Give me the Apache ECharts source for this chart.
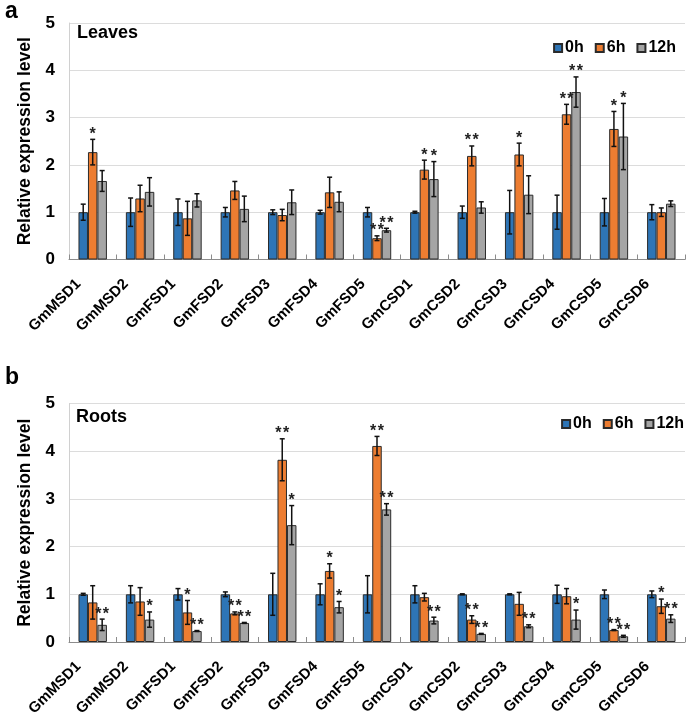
<!DOCTYPE html>
<html>
<head>
<meta charset="utf-8">
<script src="https://cdn.jsdelivr.net/npm/echarts@6/dist/echarts.min.js"></script>
<style>html,body{margin:0;padding:0;background:#fff;}#c{width:693px;height:720px;}</style>
</head>
<body>
<div id="c"></div>
<script>
const categories = ['GmMSD1','GmMSD2','GmFSD1','GmFSD2','GmFSD3','GmFSD4','GmFSD5','GmCSD1','GmCSD2','GmCSD3','GmCSD4','GmCSD5','GmCSD6'];
const seriesNames = ['0h','6h','12h'];
const yTicks = [0,1,2,3,4,5];

const leaves0 = [1,1,1,1,1,1,1,1,1,1,1,1,1];
const leaves0Err = [0.17,0.30,0.28,0.10,0.05,0.04,0.10,0.02,0.13,0.46,0.36,0.29,0.16];
const leaves6 = [2.27,1.29,0.87,1.46,0.94,1.42,0.45,1.90,2.19,2.22,3.07,2.76,1.00];
const leaves6Err = [0.27,0.28,0.36,0.19,0.12,0.32,0.05,0.20,0.21,0.24,0.21,0.37,0.09];
const leaves12 = [1.66,1.43,1.25,1.07,1.21,1.22,0.62,1.70,1.10,1.37,3.54,2.60,1.18];
const leaves12Err = [0.22,0.30,0.14,0.27,0.26,0.21,0.04,0.37,0.12,0.40,0.32,0.70,0.06];
const leaves0Sig = ['','','','','','','','','','','','',''];
const leaves6Sig = ['*','','','','','','**','*','**','*','**','*',''];
const leaves12Sig = ['','','','','','','**','*','','','**','*',''];

const roots0 = [1,1,1,1,1,1,1,1,1,1,1,1,1];
const roots0Err = [0.02,0.18,0.12,0.05,0.44,0.22,0.39,0.18,0.01,0.01,0.19,0.09,0.07];
const roots6 = [0.83,0.85,0.62,0.60,3.82,1.49,4.11,0.94,0.47,0.80,0.96,0.25,0.75];
const roots6Err = [0.35,0.29,0.25,0.03,0.44,0.15,0.20,0.08,0.08,0.24,0.16,0.01,0.15];
const roots12 = [0.36,0.47,0.23,0.40,2.45,0.73,2.78,0.45,0.17,0.33,0.47,0.12,0.49];
const roots12Err = [0.12,0.16,0.01,0.01,0.41,0.12,0.12,0.07,0.01,0.03,0.20,0.02,0.08];
const roots0Sig = ['','','','','','','','','','','','',''];
const roots6Sig = ['','','*','**','**','*','**','','**','','','**','*'];
const roots12Sig = ['**','*','**','**','*','*','**','**','**','**','*','**','**'];

const colors = ['#2E75B6','#ED7D31','#A5A5A5'];
const FONT = 'Liberation Sans, Arial, sans-serif';

const panels = [
  {vals:[leaves0,leaves6,leaves12], errs:[leaves0Err,leaves6Err,leaves12Err], sigs:[leaves0Sig,leaves6Sig,leaves12Sig]},
  {vals:[roots0,roots6,roots12], errs:[roots0Err,roots6Err,roots12Err], sigs:[roots0Sig,roots6Sig,roots12Sig]}
];

const grids = [
  {left:69, right:8, top:23, height:236.5, outerBoundsMode:'none', containLabel:false},
  {left:69, right:8, top:403.5, height:238.5, outerBoundsMode:'none', containLabel:false}
];

const CAT_GAP = 0.4;

const xAxes = [], yAxes = [], series = [];
grids.forEach((g, gi) => {
  xAxes.push({
    type:'category', gridIndex:gi, data:categories,
    axisLine:{show:true, lineStyle:{color:'#8c8c8c', width:1}},
    axisTick:{show:true, inside:true, length:5, alignWithLabel:false, lineStyle:{color:'#8c8c8c'}},
    axisLabel:{rotate:45, fontFamily:FONT, fontWeight:'bold', fontSize:15, color:'#000', margin:8, interval:0,
      padding:[0,20,0,0], hideOverlap:false},
    splitLine:{show:false}
  });
  yAxes.push({
    type:'value', gridIndex:gi, min:yTicks[0], max:yTicks[yTicks.length-1], interval:1,
    name:'Relative expression level', nameLocation:'middle', nameGap:25,
    nameTextStyle:{fontFamily:FONT, fontWeight:'bold', fontSize:17.5, color:'#000'},
    axisLine:{show:true, lineStyle:{color:'#d0d0d0'}},
    axisTick:{show:false},
    axisLabel:{fontFamily:FONT, fontWeight:'bold', fontSize:17, color:'#000', margin:14},
    splitLine:{show:true, lineStyle:{color:'#dcdcdc', width:1}}
  });
  const p = panels[gi];
  for (let s = 0; s < 3; s++) {
    series.push({
      type:'bar', name:seriesNames[s], xAxisIndex:gi, yAxisIndex:gi,
      data:p.vals[s], barGap:'0%', barCategoryGap:(CAT_GAP*100)+'%',
      itemStyle:{color:colors[s], borderColor:'#2b2b2b', borderWidth:1},
      emphasis:{disabled:true}, animation:false, z:2
    });
  }
  for (let s = 0; s < 3; s++) {
    const vals = p.vals[s], errs = p.errs[s], sigs = p.sigs[s];
    series.push({
      type:'custom', name:'err'+gi+s, xAxisIndex:gi, yAxisIndex:gi, z:5, animation:false, silent:true,
      data: categories.map((c,i)=>[i, vals[i], errs[i], sigs[i]]),
      renderItem: (params, api) => {
        const i = api.value(0);
        const v = vals[i], e = errs[i], sig = sigs[i];
        const band = api.size([1,0])[0];
        const bw = band*(1-CAT_GAP)/3;
        const c = api.coord([i, v]);
        const x = c[0] + (s-1)*bw;
        const yt = api.coord([i, v+e])[1];
        const yb = api.coord([i, v-e])[1];
        const cap = 2.5;
        const ls = {stroke:'#111', lineWidth:1.5};
        const ch = [
          {type:'line', shape:{x1:x,y1:yt,x2:x,y2:yb}, style:ls},
          {type:'line', shape:{x1:x-cap,y1:yt,x2:x+cap,y2:yt}, style:ls},
          {type:'line', shape:{x1:x-cap,y1:yb,x2:x+cap,y2:yb}, style:ls}
        ];
        if (sig) {
          ch.push({type:'text', style:{text:sig.split('').join('\u200A'), x:x, y:yt-5, align:'center', verticalAlign:'middle',
            font:'bold 16px '+FONT, fill:'#222'}});
        }
        return {type:'group', children:ch};
      }
    });
  }
});

const option = {
  backgroundColor:'#fff',
  animation:false,
  grid: grids,
  xAxis: xAxes,
  yAxis: yAxes,
  legend: [
    {data:seriesNames, right:12, top:35, itemWidth:8, itemHeight:8, itemGap:11, icon:'rect',
     textStyle:{fontFamily:FONT, fontWeight:'bold', fontSize:16, color:'#000', padding:[0,0,0,-2]}, selectedMode:false},
    {data:seriesNames, right:4, top:411, itemWidth:8, itemHeight:8, itemGap:11, icon:'rect',
     textStyle:{fontFamily:FONT, fontWeight:'bold', fontSize:16, color:'#000', padding:[0,0,0,-2]}, selectedMode:false}
  ],
  graphic: [
    {type:'text', left:5, top:0, style:{text:'a', font:'bold 23px '+FONT, fill:'#000'}},
    {type:'text', left:5, top:366, style:{text:'b', font:'bold 23px '+FONT, fill:'#000'}},
    {type:'text', left:77, top:24.5, style:{text:'Leaves', font:'bold 18px '+FONT, fill:'#000'}},
    {type:'text', left:76, top:408, style:{text:'Roots', font:'bold 18px '+FONT, fill:'#000'}}
  ],
  series: series
};
const chart = echarts.init(document.getElementById('c'), null, {renderer:'canvas'});
chart.setOption(option);
</script>
</body>
</html>
